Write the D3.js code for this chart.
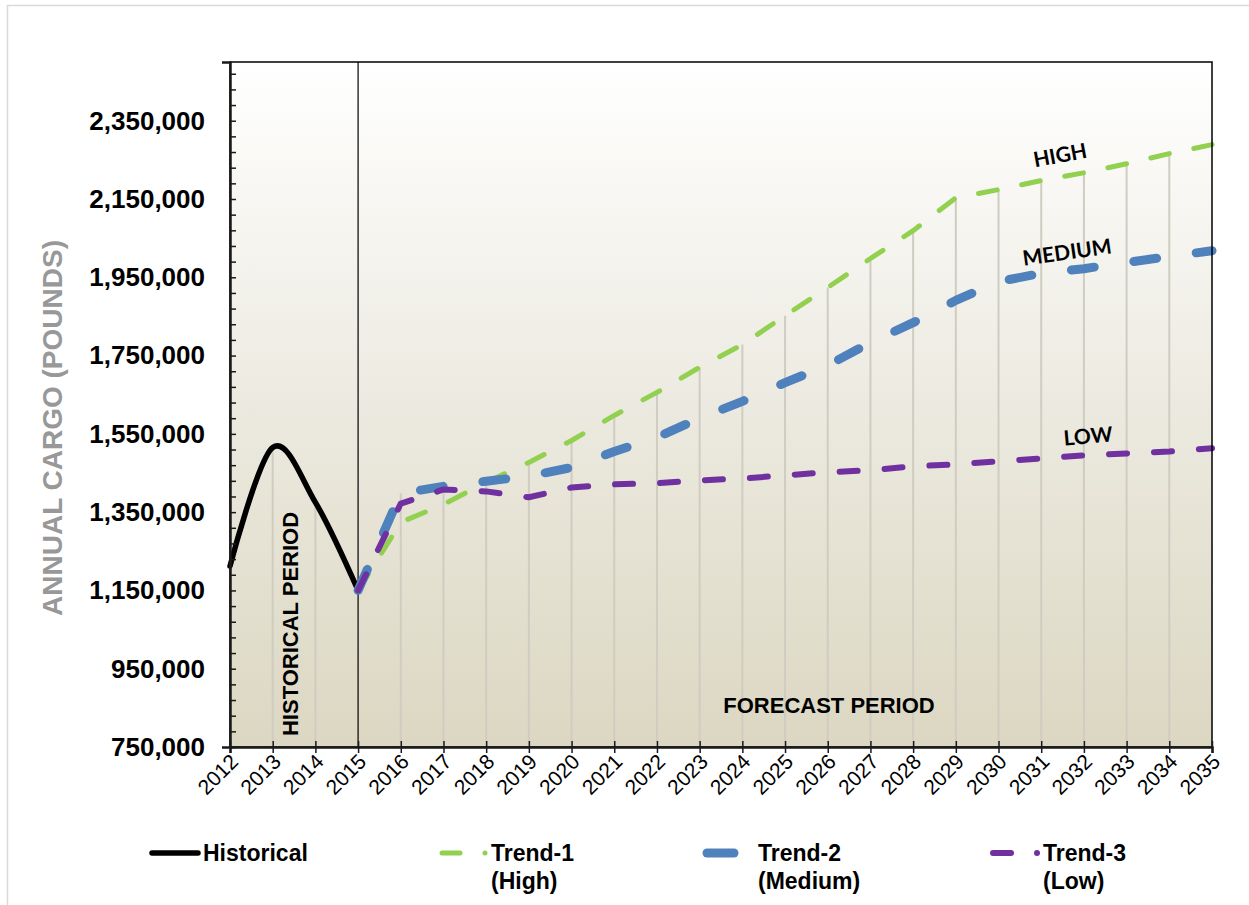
<!DOCTYPE html>
<html><head><meta charset="utf-8">
<script src="https://cdn.jsdelivr.net/npm/d3@7"></script>
<style>
body{margin:0;background:#fff}
svg{display:block}
</style>
</head><body>
<svg id="chart" width="1249" height="905"></svg>
<script>
// Annual cargo: historical record and three forecast trends (pounds)
const years = d3.range(2012, 2036);
const historicalYears = [2012, 2013, 2014, 2015];
const historical = [1212000, 1515000, 1375000, 1150000];
const forecastYears = d3.range(2015, 2036);
const trendHigh = [1150000, 1324000, 1370000, 1426000, 1477000, 1533000, 1597000, 1656000, 1720000, 1778000, 1852000, 1924000, 1998000, 2069000, 2153000, 2174000, 2197000, 2217000, 2240000, 2266000, 2289000];
const trendMedium = [1150000, 1398000, 1416000, 1429000, 1442000, 1464000, 1505000, 1541000, 1590000, 1633000, 1681000, 1725000, 1783000, 1834000, 1891000, 1939000, 1960000, 1972000, 1988000, 2003000, 2018000];
const trendLow = [1150000, 1372000, 1408000, 1403000, 1388000, 1413000, 1421000, 1424000, 1431000, 1436000, 1444000, 1452000, 1457000, 1467000, 1472000, 1480000, 1487000, 1495000, 1500000, 1505000, 1513000];
const yTickValues = [750000, 950000, 1150000, 1350000, 1550000, 1750000, 1950000, 2150000, 2350000];
const yMinorValues = d3.range(750000, 2500001, 40000);
const yDomain = [750000, 2500000];
const dividerYear = 2015;

const svg = d3.select("#chart");
const W = 1249, H = 905;
const plot = {left: 230, right: 1212, top: 62, bottom: 747};

const x = d3.scaleLinear().domain([2012, 2035]).range([plot.left, plot.right]);
const y = d3.scaleLinear().domain(yDomain).range([plot.bottom, plot.top]);

// outer frame
svg.append("rect").attr("x", 7.5).attr("y", 5.5).attr("width", W).attr("height", H)
  .attr("fill", "#fff").attr("stroke", "#d9d9d9").attr("stroke-width", 1.5);

// plot background gradient
const defs = svg.append("defs");
const grad = defs.append("linearGradient").attr("id", "bg").attr("x1", 0).attr("y1", 0).attr("x2", 0).attr("y2", 1);
grad.append("stop").attr("offset", "0%").attr("stop-color", "#ffffff");
grad.append("stop").attr("offset", "50%").attr("stop-color", "#eceae0");
grad.append("stop").attr("offset", "100%").attr("stop-color", "#dcd7c2");
svg.append("rect").attr("x", plot.left).attr("y", plot.top)
  .attr("width", plot.right - plot.left).attr("height", plot.bottom - plot.top)
  .attr("fill", "url(#bg)");

// drop lines from the highest series value at each year
const seriesByYear = new Map();
historicalYears.forEach((yr, i) => seriesByYear.set(yr, [historical[i]]));
forecastYears.forEach((yr, i) => {
  const arr = seriesByYear.get(yr) || [];
  arr.push(trendHigh[i], trendMedium[i], trendLow[i]);
  seriesByYear.set(yr, arr);
});
svg.append("g").selectAll("line")
  .data(years.filter(yr => yr !== 2012 && yr !== 2035 && yr !== dividerYear))
  .join("line")
  .attr("x1", d => x(d)).attr("x2", d => x(d))
  .attr("y1", plot.bottom)
  .attr("y2", d => y(d3.max(seriesByYear.get(d))))
  .attr("stroke", "#cfccc2").attr("stroke-width", 2);

// historical / forecast divider
svg.append("line").attr("x1", x(dividerYear)).attr("x2", x(dividerYear))
  .attr("y1", plot.top).attr("y2", plot.bottom)
  .attr("stroke", "#000").attr("stroke-width", 1.2);

// period annotations
svg.append("text")
  .attr("transform", `translate(${x(2013) + 25},624) rotate(-90)`)
  .attr("text-anchor", "middle")
  .style("font", "bold 22px 'Liberation Sans', Arial, sans-serif")
  .text("HISTORICAL PERIOD");
svg.append("text").attr("x", 829).attr("y", 713)
  .attr("text-anchor", "middle")
  .style("font", "bold 22px 'Liberation Sans', Arial, sans-serif")
  .text("FORECAST PERIOD");

// lines
const lineHist = d3.line().x((d, i) => x(historicalYears[i])).y(d => y(d)).curve(d3.curveCardinal.tension(0));
svg.append("path").datum(historical).attr("d", lineHist)
  .attr("fill", "none").attr("stroke", "#000").attr("stroke-width", 5.5)
  .attr("stroke-linecap", "round").attr("stroke-linejoin", "round");

const lineF = d3.line().x((d, i) => x(forecastYears[i])).y(d => y(d));
const trends = [
  {values: trendHigh, color: "#92d050", width: 5, dash: "19,25"},
  {values: trendMedium, color: "#4f81bd", width: 9, dash: "23,40"},
  {values: trendLow, color: "#7030a0", width: 6, dash: "18,27"}
];
trends.forEach(t => {
  svg.append("path").datum(t.values).attr("d", lineF)
    .attr("fill", "none").attr("stroke", t.color).attr("stroke-width", t.width)
    .attr("stroke-dasharray", t.dash).attr("stroke-linecap", "round").attr("stroke-linejoin", "round");
});

// trend annotations
const annFont = "bold 21px Lato, 'Open Sans', sans-serif";
[
  {text: "HIGH", cx: 1060, cy: 155, rot: -10.5},
  {text: "MEDIUM", cx: 1067, cy: 252, rot: -8},
  {text: "LOW", cx: 1088, cy: 436, rot: -5}
].forEach(a => {
  svg.append("text").attr("transform", `translate(${a.cx},${a.cy}) rotate(${a.rot})`)
    .attr("text-anchor", "middle").attr("dy", "0.36em")
    .style("font", annFont).text(a.text);
});

// plot frame
svg.append("rect").attr("x", plot.left).attr("y", plot.top)
  .attr("width", plot.right - plot.left).attr("height", plot.bottom - plot.top)
  .attr("fill", "none").attr("stroke", "#000").attr("stroke-width", 1.5);

// y axis
const yAxis = svg.append("g").attr("transform", `translate(${plot.left},0)`)
  .call(d3.axisLeft(y).tickValues(yTickValues).tickSize(8).tickPadding(17).tickFormat(d3.format(",")));
yAxis.select(".domain").attr("stroke", "#1a1a1a").attr("stroke-width", 2.5);
yAxis.selectAll(".tick line").attr("x2", 6).attr("stroke", "#1a1a1a").attr("stroke-width", 1.5);
yAxis.selectAll(".tick text").style("font", "bold 26px 'Liberation Sans', Arial, sans-serif").attr("fill", "#000");
const yMinor = svg.append("g").attr("transform", `translate(${plot.left},0)`)
  .call(d3.axisRight(y).tickValues(yMinorValues.filter(v => !yTickValues.includes(v))).tickSize(6).tickFormat(""));
yMinor.select(".domain").remove();
yMinor.selectAll(".tick line").attr("stroke", "#1a1a1a").attr("stroke-width", 1.5);

// x axis
const xAxis = svg.append("g").attr("transform", `translate(0,${plot.bottom})`)
  .call(d3.axisBottom(x).tickValues(years).tickSize(6).tickFormat(d3.format("d")));
xAxis.select(".domain").attr("stroke", "#1a1a1a").attr("stroke-width", 2.5);
xAxis.selectAll(".tick line").attr("y1", -6).attr("stroke", "#1a1a1a").attr("stroke-width", 1.5);
xAxis.selectAll(".tick text")
  .style("font", "21px 'Liberation Sans', Arial, sans-serif").attr("fill", "#000")
  .attr("text-anchor", "end").attr("dy", null).attr("y", null)
  .attr("transform", "translate(9,16) rotate(-45)");

// y axis title
svg.append("text").attr("transform", "translate(62,428) rotate(-90)")
  .attr("text-anchor", "middle")
  .style("font", "bold 28px 'Liberation Sans', Arial, sans-serif")
  .attr("fill", "#989898")
  .text("ANNUAL CARGO (POUNDS)");

// legend
const legFont = "bold 23px 'Liberation Sans', Arial, sans-serif";
const legY = 853;
const legend = [
  {label: ["Historical"], color: "#000", width: 5.5, x1: 152, x2: 198, dot: null, tx: 203},
  {label: ["Trend-1", "(High)"], color: "#92d050", width: 5, x1: 442, x2: 460, dot: 485, tx: 491},
  {label: ["Trend-2", "(Medium)"], color: "#4f81bd", width: 9, x1: 707, x2: 734, dot: null, tx: 758},
  {label: ["Trend-3", "(Low)"], color: "#7030a0", width: 6, x1: 993, x2: 1011, dot: 1037, tx: 1043}
];
const lg = svg.append("g");
legend.forEach(l => {
  lg.append("line").attr("x1", l.x1).attr("x2", l.x2).attr("y1", legY).attr("y2", legY)
    .attr("stroke", l.color).attr("stroke-width", l.width).attr("stroke-linecap", "round");
  if (l.dot) lg.append("circle").attr("cx", l.dot).attr("cy", legY).attr("r", l.width / 2).attr("fill", l.color);
  l.label.forEach((s, i) => {
    lg.append("text").attr("x", l.tx).attr("y", legY + i * 28).attr("dy", "0.35em")
      .style("font", legFont).text(s);
  });
});
</script>
</body></html>
